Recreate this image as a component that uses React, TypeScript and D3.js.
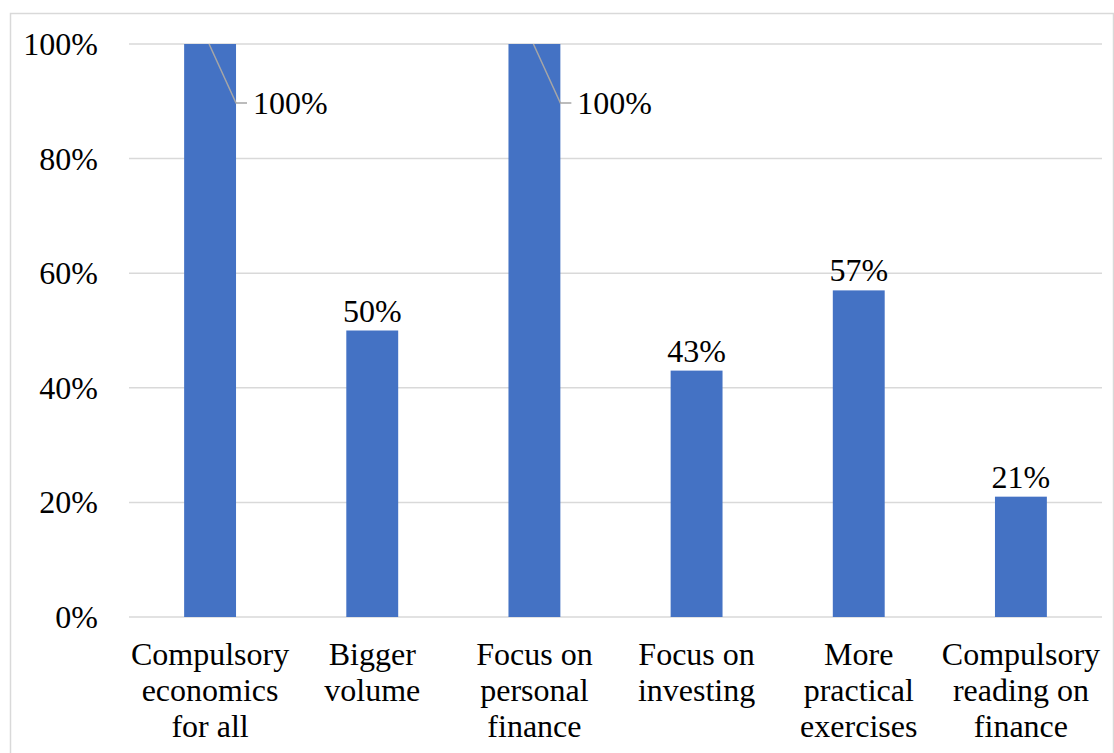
import React from "react";
import { scaleBand, scaleLinear, format } from "d3";

const categories: string[][] = [
  ["Compulsory", "economics", "for all"],
  ["Bigger", "volume"],
  ["Focus on", "personal", "finance"],
  ["Focus on", "investing"],
  ["More", "practical", "exercises"],
  ["Compulsory", "reading on", "finance"],
];
const values: number[] = [1.0, 0.5, 1.0, 0.43, 0.57, 0.21];
const yTicks: number[] = [0, 0.2, 0.4, 0.6, 0.8, 1.0];

const W = 1114;
const H = 753;
const FS = 32;

export default function App() {
  const left = 129;
  const right = 1102;
  const top = 44;
  const bottom = 617;

  const x = scaleBand<number>()
    .domain(values.map((_, i) => i))
    .range([left, right])
    .paddingInner(0.68)
    .paddingOuter(0.34);
  const band = scaleBand<number>().domain(values.map((_, i) => i)).range([left, right]);
  const y = scaleLinear().domain([0, 1]).range([bottom, top]);
  const fmt = format(".0%");

  const texts: { x: number; y: number; anchor: string; s: string }[] = [];
  yTicks.forEach((t) => texts.push({ x: 98, y: y(t) + 11, anchor: "end", s: fmt(t) }));
  values.forEach((v, i) => {
    const bx = x(i)!;
    const bw = x.bandwidth();
    const cx = band(i)! + band.bandwidth() / 2;
    if (v >= 0.999) texts.push({ x: bx + bw + 17, y: y(v) + 70, anchor: "start", s: fmt(v) });
    else texts.push({ x: cx, y: y(v) - 9, anchor: "middle", s: fmt(v) });
    categories[i].forEach((line, k) => texts.push({ x: cx, y: 665 + k * 36, anchor: "middle", s: line }));
  });

  return (
    <svg width={W} height={H} style={{ position: "absolute", left: 0, top: 0, fontFamily: "Liberation Serif" }}>
      <rect x={10.5} y={13.5} width={1103} height={760} fill="none" stroke="#d9d9d9" strokeWidth={1.5} />
      {yTicks.map((t) => (
        <line key={"g" + t} x1={left} x2={right} y1={y(t)} y2={y(t)} stroke="#d9d9d9" strokeWidth={1.5} />
      ))}
      {values.map((v, i) => (
        <rect key={"b" + i} x={x(i)!} y={y(v)} width={x.bandwidth()} height={y(0) - y(v)} fill="#4472C4" />
      ))}
      {values.map((v, i) =>
        v >= 0.999 ? (
          <polyline
            key={"l" + i}
            points={`${band(i)! + band.bandwidth() / 2 - 1},${y(v)} ${x(i)! + x.bandwidth()},${y(v) + 59} ${
              x(i)! + x.bandwidth() + 11
            },${y(v) + 59}`}
            fill="none"
            stroke="#a6a6a6"
            strokeWidth={1.5}
          />
        ) : null
      )}
      {texts.map((t, i) => (
        <text key={"t" + i} x={t.x} y={t.y} fontSize={FS} textAnchor={t.anchor} style={{ fontFamily: "Liberation Serif" }}>
          {t.s}
        </text>
      ))}
    </svg>
  );
}
